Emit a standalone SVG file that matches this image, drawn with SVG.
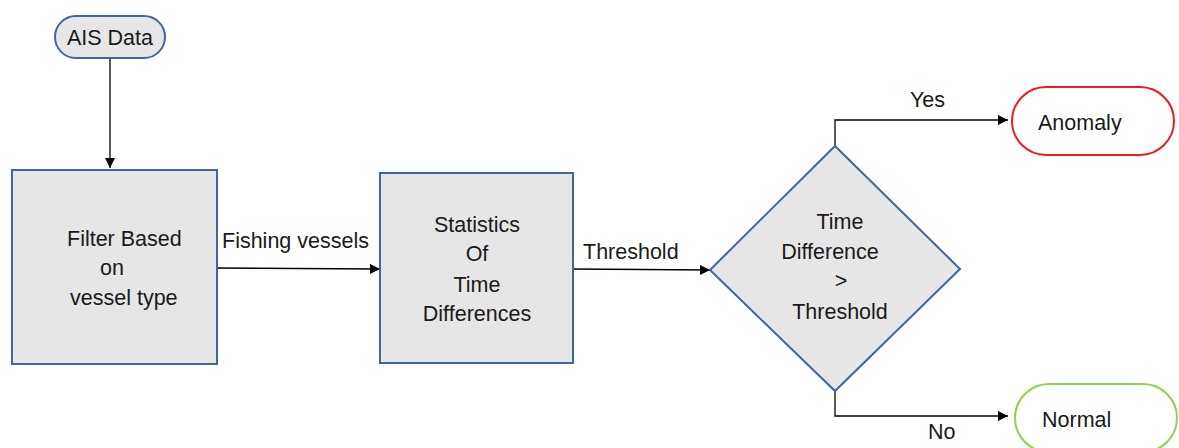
<svg xmlns="http://www.w3.org/2000/svg" width="1179" height="448" viewBox="0 0 1179 448">
<style>
text{font-family:"Liberation Sans",Arial,sans-serif;font-size:21.5px;fill:#1a1a1a}
.c{text-anchor:middle}
.box{fill:#e6e6e6;stroke:#41659e;stroke-width:2}
.ln{fill:none;stroke:#000;stroke-width:1.3}
</style>
<defs>
<marker id="ah" viewBox="0 0 10 10" refX="10" refY="5" markerWidth="10" markerHeight="10" markerUnits="userSpaceOnUse" orient="auto">
<path d="M0,0 L10,5 L0,10 Z" fill="#000"/>
</marker>
</defs>
<rect width="1179" height="448" fill="#fff"/>
<g id="connectors">
<path class="ln" d="M110,58 V168" marker-end="url(#ah)"/>
<path class="ln" d="M217,268 L380,269" marker-end="url(#ah)"/>
<path class="ln" d="M573,269 L710,270" marker-end="url(#ah)"/>
<path class="ln" d="M835,146 V120 H1008" marker-end="url(#ah)"/>
<path class="ln" d="M835,391 V416 H1008" marker-end="url(#ah)"/>
<text x="222" y="248">Fishing vessels</text>
<text x="583" y="259">Threshold</text>
<text x="910" y="107">Yes</text>
<text x="928" y="439">No</text>
</g>
<g id="ais">
<rect class="box" x="55" y="16" width="110" height="42" rx="21"/>
<text class="c" x="110" y="45">AIS Data</text>
</g>
<g id="filter">
<rect class="box" x="12" y="170" width="205" height="194"/>
<text x="67" y="246">Filter Based</text>
<text x="100" y="275">on</text>
<text x="70" y="305">vessel type</text>
</g>
<g id="stats">
<rect class="box" x="380" y="173" width="193" height="190"/>
<text class="c" x="477" y="232">Statistics</text>
<text class="c" x="477" y="261">Of</text>
<text class="c" x="477" y="292">Time</text>
<text class="c" x="477" y="321">Differences</text>
</g>
<g id="decision">
<polygon class="box" points="710,270 835,146 960,269 835,391"/>
<text class="c" x="840" y="229">Time</text>
<text class="c" x="830" y="259">Difference</text>
<text class="c" x="841" y="288">&gt;</text>
<text class="c" x="840" y="319">Threshold</text>
</g>
<g id="anomaly">
<rect x="1012" y="87" width="162" height="68" rx="34" fill="#fff" stroke="#ee1c1c" stroke-width="2"/>
<text x="1038" y="130">Anomaly</text>
</g>
<g id="normal">
<rect x="1015" y="384" width="162" height="68" rx="34" fill="#fff" stroke="#92d050" stroke-width="2"/>
<text x="1042" y="427">Normal</text>
</g>
</svg>
